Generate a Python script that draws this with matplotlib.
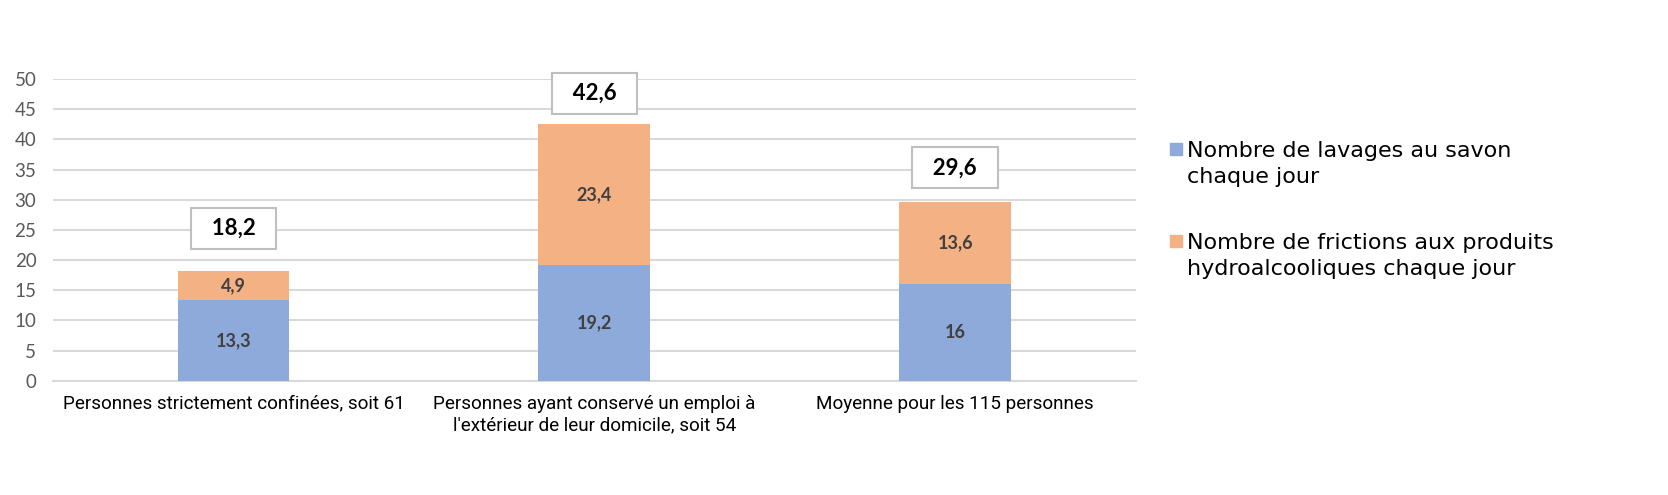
"""Stacked bars: daily hand washes vs hydroalcoholic rubs."""

import matplotlib

matplotlib.use("Agg")
import matplotlib.pyplot as plt  # noqa: E402
from matplotlib.patches import Rectangle  # noqa: E402

CATEGORIES = [
    "Personnes strictement confinées, soit 61",
    "Personnes ayant conservé un emploi à\nl'extérieur de leur domicile, soit 54",
    "Moyenne pour les 115 personnes",
]
SOAP = [13.3, 19.2, 16]
RUBS = [4.9, 23.4, 13.6]
TOTALS = [18.2, 42.6, 29.6]
SOAP_LABELS = ["13,3", "19,2", "16"]
RUB_LABELS = ["4,9", "23,4", "13,6"]
TOTAL_LABELS = ["18,2", "42,6", "29,6"]
LEGEND_LABELS = [
    "Nombre de lavages au savon\nchaque jour",
    "Nombre de frictions aux produits\nhydroalcooliques chaque jour",
]
BOX_OFFSETS = [7.1, 5.1, 5.7]

BLUE = "#8eaadb"
ORANGE = "#f4b183"
OUTPUT_PATH = "out.png"


def run() -> None:
    fig = plt.figure(figsize=(16.68, 4.95), dpi=100)
    ax = fig.add_axes([0.0318, 0.231, 0.649, 0.609])

    x = range(len(CATEGORIES))
    ax.bar(x, SOAP, width=0.31, color=BLUE, zorder=3)
    ax.bar(x, RUBS, width=0.31, bottom=SOAP, color=ORANGE, zorder=3)

    for i in x:
        ax.text(i, SOAP[i] / 2, SOAP_LABELS[i], ha="center", va="center",
                fontsize=13, fontfamily="Lato", fontweight="bold",
                color="#404040", zorder=4)
        ax.text(i, SOAP[i] + RUBS[i] / 2, RUB_LABELS[i], ha="center",
                va="center", fontsize=13, fontfamily="Lato",
                fontweight="bold", color="#404040", zorder=4)
        ax.text(i, TOTALS[i] + BOX_OFFSETS[i], "  " + TOTAL_LABELS[i] + "  ",
                ha="center", va="center", fontsize=16, fontfamily="Lato",
                fontweight="bold", color="black", zorder=4,
                bbox=dict(boxstyle="square,pad=0.45", fc="white",
                          ec="#bfbfbf", lw=1.5))

    ax.set_xlim(-0.5, 2.5)
    ax.set_ylim(0, 50)
    ax.set_yticks(range(0, 51, 5))
    ax.set_xticks(list(x))
    ax.set_xticklabels(CATEGORIES, fontsize=13.6, fontfamily="Roboto",
                       color="black", linespacing=1.25)
    for lbl in ax.get_yticklabels():
        lbl.set_fontfamily("Lato")
        lbl.set_fontsize(13.5)
        lbl.set_color("#595959")
    ax.tick_params(axis="y", length=0, pad=12)
    ax.tick_params(axis="x", length=0, pad=10)
    ax.grid(axis="y", color="#d9d9d9", lw=1.5, zorder=0)
    for side in ["top", "right", "left"]:
        ax.spines[side].set_visible(False)
    ax.spines["bottom"].set_color("#d9d9d9")
    ax.spines["bottom"].set_linewidth(1.5)

    # legend drawn by hand so the swatch sits on the first text line
    for k, (label, color) in enumerate(zip(LEGEND_LABELS, [BLUE, ORANGE])):
        y_mid = 1 - (149 + 92 * k) / 495
        fig.patches.append(Rectangle((1170 / 1668, y_mid - 6 / 495),
                                     12 / 1668, 12 / 495, color=color,
                                     transform=fig.transFigure))
        fig.text(1187 / 1668, y_mid + 8 / 495, label, fontsize=16,
                 fontfamily="DejaVu Sans", va="top", ha="left",
                 color="black", linespacing=1.35)

    fig.savefig(OUTPUT_PATH)
    plt.close(fig)


if __name__ == "__main__":
    run()
